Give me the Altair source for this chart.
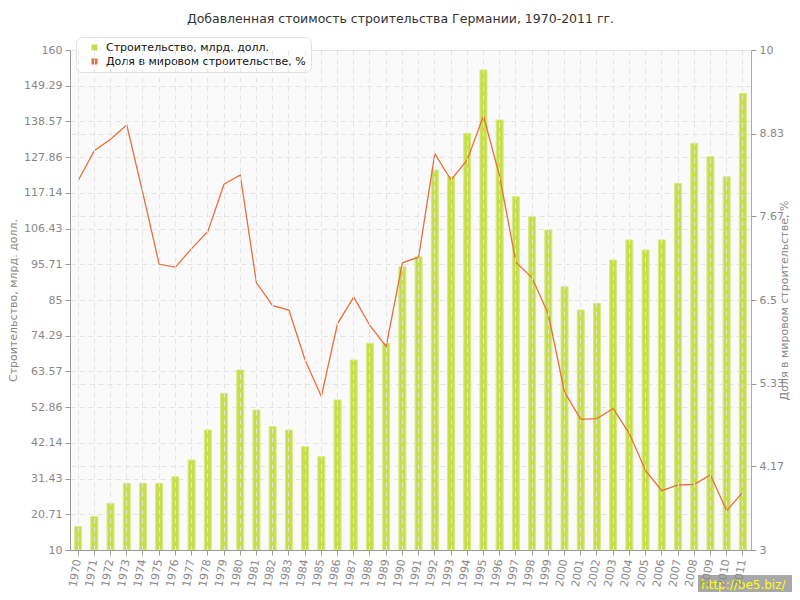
import altair as alt
import pandas as pd

years = list(range(1970, 2012))
construction = [17, 20, 24, 30, 30, 30, 32, 37, 46, 57,
                64, 52, 47, 46, 41, 38, 55, 67, 72, 72,
                95, 98, 124, 122, 135, 154, 139, 116, 110, 106,
                89, 82, 84, 97, 103, 100, 103, 120, 132, 128, 122, 147]
share = [8.17, 8.59, 8.75, 8.95, 7.99, 7.0, 6.96, 7.22, 7.46, 8.12,
         8.25, 6.74, 6.42, 6.36, 5.66, 5.15, 6.17, 6.54, 6.14, 5.85,
         7.02, 7.10, 8.55, 8.18, 8.46, 9.08, 8.23, 7.03, 6.81, 6.30,
         5.21, 4.83, 4.84, 4.98, 4.63, 4.11, 3.83, 3.91, 3.92, 4.05, 3.55, 3.81]
left_ticks = [10, 20.71, 31.43, 42.14, 52.86, 63.57, 74.29, 85, 95.71,
              106.43, 117.14, 127.86, 138.57, 149.29, 160]
right_ticks = [3, 4.17, 5.33, 6.5, 7.67, 8.83, 10]
series_names = ["Строительство, млрд. долл.", "Доля в мировом строительстве, %"]
series_colors = ["#c6df48", "#e8703c"]
title_text = "Добавленная стоимость строительства Германии, 1970-2011 гг."
watermark = "http://be5.biz/"

df = pd.DataFrame({"year": [str(y) for y in years], "construction": construction,
                   "share": share, "series": series_names[0]})

FONT = "DejaVu Sans"
GRID = "#e4e4e4"

x_enc = alt.X("year:N", sort=None,
              scale=alt.Scale(paddingInner=0, paddingOuter=0),
              axis=alt.Axis(title=None, labelAngle=280, grid=True, gridDash=[5, 4],
                            gridColor=GRID, zindex=1, domainColor="#999", tickColor="#999",
                            tickSize=5, labelColor="#888", labelFont=FONT, labelFontSize=11,
                            labelPadding=4))

bars = alt.Chart(df).mark_bar(size=7, stroke="#d8ea84", strokeWidth=1).encode(
    x=x_enc,
    y=alt.Y("construction:Q",
            scale=alt.Scale(domain=[10, 160], nice=False, zero=False),
            axis=alt.Axis(values=left_ticks, format=".2~f", title=series_names[0],
                          grid=True, gridDash=[5, 4], gridColor=GRID,
                          domainColor="#999", tickColor="#999", tickSize=5,
                          labelColor="#888", labelFont=FONT, labelFontSize=11, labelPadding=3,
                          titleColor="#888", titleFont=FONT, titleFontSize=11,
                          titleFontWeight="normal", titlePadding=5)),
    y2=alt.datum(10),
    color=alt.Color("series:N",
                    scale=alt.Scale(domain=series_names, range=series_colors),
                    legend=alt.Legend(title=None, orient="none", legendX=6, legendY=-13,
                                      fillColor="white", strokeColor="#e2e2e2", cornerRadius=6,
                                      padding=5, rowPadding=2, symbolType="square",
                                      symbolSize=36, symbolStrokeWidth=0, symbolOffset=8,
                                      labelFont=FONT, labelFontSize=11, labelColor="#111",
                                      labelOffset=6, labelLimit=400)),
)

line = alt.Chart(df).mark_line(color=series_colors[1], strokeWidth=1.3).encode(
    x=x_enc,
    y=alt.Y("share:Q",
            scale=alt.Scale(domain=[3, 10], nice=False, zero=False),
            axis=alt.Axis(values=right_ticks, format=".2~f", orient="right",
                          title=series_names[1], grid=True, gridDash=[5, 4], gridColor=GRID,
                          domainColor="#aaa", tickColor="#999", tickSize=5,
                          labelColor="#888", labelFont=FONT, labelFontSize=11, labelPadding=3,
                          titleColor="#888", titleFont=FONT, titleFontSize=11,
                          titleFontWeight="normal", titleAngle=270, titlePadding=6)),
)

wm_df = pd.DataFrame({"t": [watermark]})
wm_rect = alt.Chart(wm_df).mark_rect(color="#a8a8a8").encode(
    x=alt.value(628), x2=alt.value(740), y=alt.value(525), y2=alt.value(545))
wm_text = alt.Chart(wm_df).mark_text(color="#ffff00", font=FONT, fontSize=12,
                                     align="left", baseline="middle").encode(
    x=alt.value(631), y=alt.value(535), text="t:N")

chart = alt.layer(bars, line, wm_rect, wm_text).resolve_scale(y="independent").properties(
    width=681, height=500,
    padding={"left": 62, "top": 42, "right": 41, "bottom": 42},
    autosize=alt.AutoSizeParams(type="none"),
    title=alt.TitleParams(title_text, font=FONT, fontSize=12.5, fontWeight="normal",
                          color="#333", anchor="middle", offset=11, dx=-10),
).configure_view(fill="#fafafa", stroke="#e0e0e0")

chart.save("out.html", embed_options={"renderer": "svg", "actions": False})
